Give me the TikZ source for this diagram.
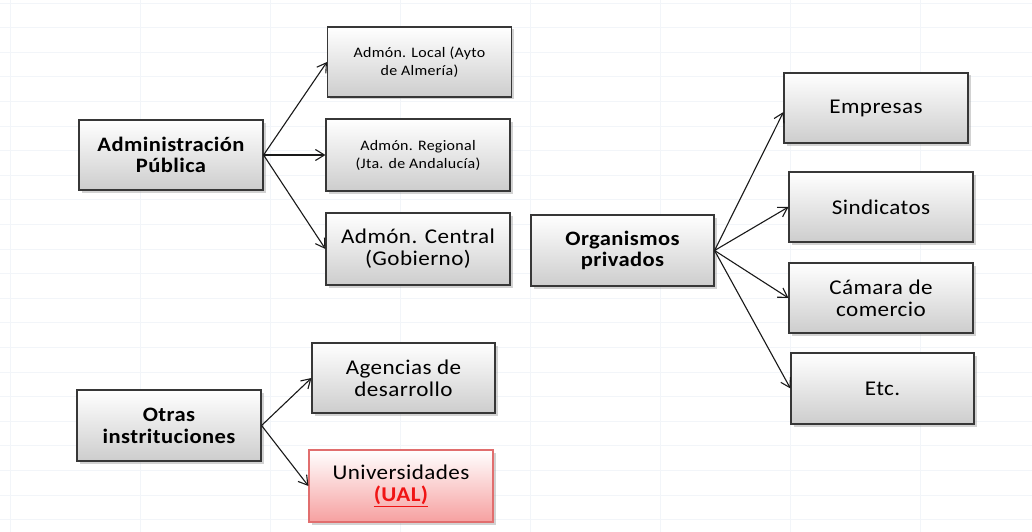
\documentclass[tikz,border=0pt]{standalone}
\usepackage{fontspec}
\setmainfont[FakeStretch=1.1,LetterSpace=2]{Carlito}
\usetikzlibrary{arrows.meta,shadows}
\definecolor{gridc}{RGB}{242,245,249}
\definecolor{edgec}{RGB}{55,55,55}
\definecolor{boxbot}{RGB}{205,205,205}
\definecolor{uborder}{RGB}{225,110,110}
\definecolor{ubot}{RGB}{246,160,160}
\definecolor{ured}{RGB}{240,20,20}
\tikzset{
  box/.style={draw=edgec, line width=1.1pt, rectangle, top color=white, bottom color=boxbot,
    minimum width=184pt, minimum height=70pt, align=center, inner sep=2pt,
    drop shadow={shadow xshift=2.5pt, shadow yshift=-2.5pt, opacity=0.35, fill=gray}},
  redbox/.style={box, draw=uborder, top color=white, bottom color=ubot},
  big/.style={font=\fontsize{20.5}{21.7}\selectfont\bfseries},
  mid/.style={font=\fontsize{21}{21.7}\selectfont},
  small/.style={font=\fontsize{14.5}{18}\selectfont},
  conn/.style={line width=1.1pt, draw=black!90, -{Straight Barb[length=9pt,width=11pt]}}
}
\begin{document}
\begin{tikzpicture}[x=1pt,y=-1pt]
\useasboundingbox (0,0) rectangle (1032,532);
\fill[white] (0,0) rectangle (1032,532);
% faint spreadsheet grid
\foreach \i in {0,...,21} {\draw[gridc, line width=0.7pt] (0,{3+24.6*\i}) -- (1032,{3+24.6*\i});}
\foreach \j in {0,...,7} {\draw[gridc, line width=0.7pt] ({10+130*\j},0) -- ({10+130*\j},532);}

\node[box,big] (ap) at (171,155) {Administración\\Pública};
\node[box,small] (local) at (419.5,62) {Admón. Local (Ayto\\de Almería)};
\node[box,small,minimum height=72pt] (regional) at (418,155) {Admón. Regional\\(Jta. de Andalucía)};
\node[box,mid,minimum height=72pt] (central) at (418,249) {Admón. Central\\(Gobierno)};

\node[box,big,minimum height=71pt] (otras) at (169,425.5) {Otras\\instrituciones};
\node[box,mid,minimum width=183pt] (agencias) at (403.5,378) {Agencias de\\desarrollo};
\node[redbox,mid,minimum height=72pt] (univ) at (401,486) {Universidades\\{\bfseries\color{ured}\underline{(UAL)}}};

\node[box,big,minimum width=183pt,minimum height=71pt] (org) at (622.5,250.5) {Organismos\\privados};
\node[box,mid] (emp) at (876,108) {Empresas};
\node[box,mid] (sind) at (881,207) {Sindicatos};
\node[box,mid] (cam) at (881,298) {Cámara de\\comercio};
\node[box,mid,minimum width=183pt,minimum height=71pt] (etc) at (882.5,388.5) {Etc.};

\draw[conn] (ap.east) -- (local.west);
\draw[conn] (ap.east) -- (regional.west);
\draw[conn] (ap.east) -- (central.west);
\draw[conn] (otras.east) -- (agencias.west);
\draw[conn] (otras.east) -- (univ.west);
\draw[conn] (org.east) -- ([yshift=-4pt]emp.west);
\draw[conn] (org.east) -- (sind.west);
\draw[conn] (org.east) -- (cam.west);
\draw[conn] (org.east) -- (etc.west);
\end{tikzpicture}
\end{document}
